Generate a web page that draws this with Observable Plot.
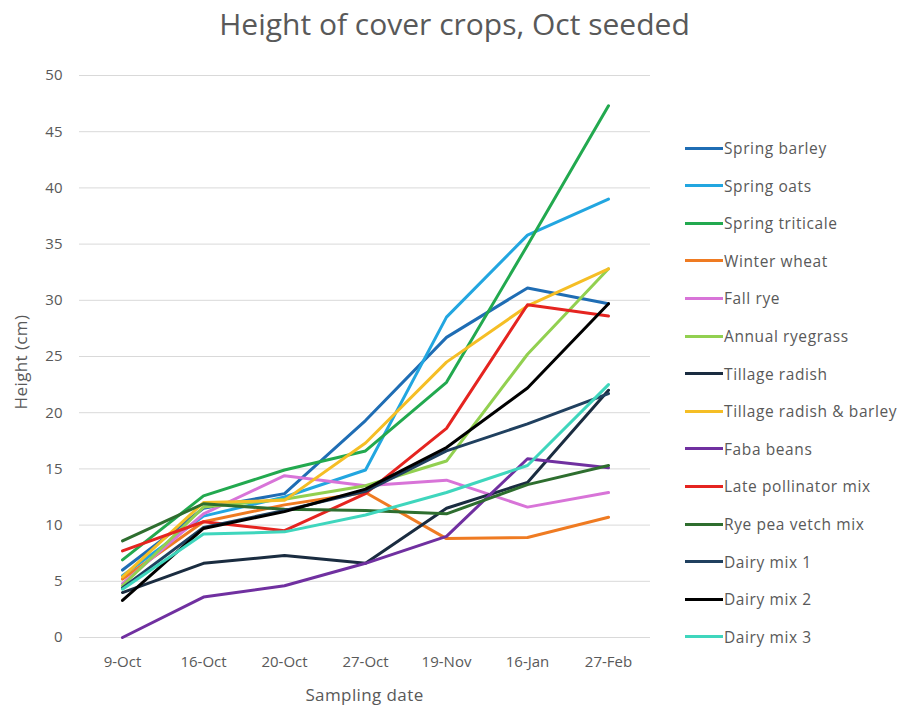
<!DOCTYPE html>
<html>
<head>
<meta charset="utf-8">
<script src="https://cdn.jsdelivr.net/npm/d3@7"></script>
<script src="https://cdn.jsdelivr.net/npm/@observablehq/plot@0.6"></script>
<style>
  html, body { margin: 0; padding: 0; background: #fff; }
  #chart { position: relative; width: 909px; height: 707px; font-family: "Open Sans", sans-serif; color: #595959; }
  #chart svg { position: absolute; left: 0; top: 0; }
  .title { position: absolute; left: 0; width: 909px; top: 3px; text-align: center; font-size: 30px; color: #595959; }
  .xtitle { position: absolute; left: 79px; width: 571px; top: 683px; text-align: center; font-size: 17px; letter-spacing: 0.4px; }
  .ytitle { position: absolute; left: 20px; top: 362px; transform: translate(-50%, -50%) rotate(-90deg); font-size: 17px; letter-spacing: 0.4px; white-space: nowrap; }
  .legend { position: absolute; left: 685px; top: 136px; font-size: 15.5px; letter-spacing: 0.6px; }
  .legend .item { position: absolute; left: 0; height: 24px; display: flex; align-items: center; white-space: nowrap; }
  .legend .sw { width: 38px; height: 3px; margin-right: 1px; }
</style>
</head>
<body>
<div id="chart">
  <div class="title">Height of cover crops, Oct seeded</div>
  <div class="ytitle">Height (cm)</div>
  <div class="xtitle">Sampling date</div>
  <div class="legend" id="legend"></div>
</div>
<script>
// Sampling dates (categorical x axis)
const dates = ["9-Oct", "16-Oct", "20-Oct", "27-Oct", "19-Nov", "16-Jan", "27-Feb"];

// Cover crops, in legend order
const crops = [
  "Spring barley", "Spring oats", "Spring triticale", "Winter wheat", "Fall rye",
  "Annual ryegrass", "Tillage radish", "Tillage radish & barley", "Faba beans",
  "Late pollinator mix", "Rye pea vetch mix", "Dairy mix 1", "Dairy mix 2", "Dairy mix 3"
];

const cropColors = [
  "#1f6db4", "#22a6e0", "#22a94f", "#ef7b22", "#d874d8",
  "#92d050", "#1a2c40", "#f5be25", "#7030a0",
  "#e52420", "#2e6e2f", "#20405f", "#000000", "#3fd6bd"
];

// Plant height (cm) at each sampling date
const springBarley      = [6.0, 11.5, 12.8, 19.3, 26.7, 31.1, 29.7];
const springOats        = [5.5, 10.8, 12.5, 14.9, 28.5, 35.8, 39.0];
const springTriticale   = [6.9, 12.6, 14.9, 16.6, 22.7, 34.9, 47.3];
const winterWheat       = [5.2, 10.3, 11.8, 12.9, 8.8, 8.9, 10.7];
const fallRye           = [4.8, 11.0, 14.4, 13.5, 14.0, 11.6, 12.9];
const annualRyegrass    = [4.6, 11.6, 12.3, 13.5, 15.7, 25.2, 32.8];
const tillageRadish     = [4.0, 6.6, 7.3, 6.6, 11.5, 13.8, 22.0];
const radishBarley      = [5.4, 12.0, 12.2, 17.3, 24.5, 29.5, 32.8];
const fabaBeans         = [0.0, 3.6, 4.6, 6.6, 9.0, 15.9, 15.1];
const latePollinator    = [7.7, 10.3, 9.5, 12.8, 18.6, 29.6, 28.6];
const ryePeaVetch       = [8.6, 11.9, 11.4, 11.3, 11.0, 13.6, 15.3];
const dairyMix1         = [4.4, 9.8, 11.3, 13.0, 16.6, 19.0, 21.7];
const dairyMix2         = [3.3, 9.7, 11.2, 13.2, 16.9, 22.2, 29.7];
const dairyMix3         = [4.3, 9.2, 9.4, 10.9, 12.9, 15.3, 22.5];

const yTicks = [0, 5, 10, 15, 20, 25, 30, 35, 40, 45, 50];

const heights = [
  springBarley, springOats, springTriticale, winterWheat, fallRye,
  annualRyegrass, tillageRadish, radishBarley, fabaBeans,
  latePollinator, ryePeaVetch, dairyMix1, dairyMix2, dairyMix3
];

const rows = crops.flatMap((crop, i) =>
  dates.map((date, j) => ({crop, date, height: heights[i][j]}))
);

const chart = Plot.plot({
  width: 909,
  height: 707,
  marginLeft: 79,
  marginRight: 259,
  marginTop: 75,
  marginBottom: 70,
  style: {fontFamily: "'Open Sans', sans-serif", fontSize: "15px", color: "#595959", background: "transparent"},
  x: {type: "point", domain: dates, padding: 0.5, label: null},
  y: {domain: [0, 50], label: null},
  color: {domain: crops, range: cropColors},
  marks: [
    Plot.ruleY(yTicks, {stroke: "#d9d9d9", strokeWidth: 1}),
    Plot.axisY({ticks: yTicks, tickSize: 0, tickPadding: 17, label: null}),
    Plot.axisX({tickSize: 0, tickPadding: 19, label: null}),
    Plot.lineY(rows, {
      x: "date", y: "height", z: "crop", stroke: "crop",
      strokeWidth: 3, strokeLinejoin: "round", strokeLinecap: "round"
    })
  ]
});
document.getElementById("chart").insertBefore(chart, document.querySelector(".legend"));

// Legend: one swatch per crop
const legend = d3.select("#legend");
crops.forEach((crop, i) => {
  const item = legend.append("div").attr("class", "item").style("top", `${i * 37.6}px`);
  item.append("div").attr("class", "sw").style("background", cropColors[i]);
  item.append("span").text(crop);
});
</script>
</body>
</html>
